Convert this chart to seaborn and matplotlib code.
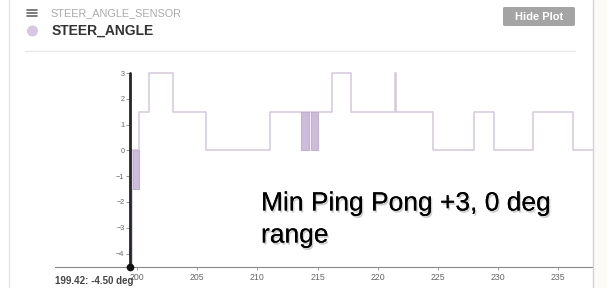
import matplotlib
matplotlib.use('Agg')
import pandas as pd
import seaborn as sns
import matplotlib.pyplot as plt
import matplotlib.patheffects as pe
from matplotlib.patches import Rectangle, Ellipse, FancyBboxPatch
from matplotlib.lines import Line2D

# steer angle samples (step signal, value held until next sample)
step_time = [199.42, 199.56, 200.19, 201.02, 202.97, 205.73, 211.05, 216.22, 217.77,
             221.47, 221.52, 224.61, 227.99, 229.65, 232.92, 236.19, 239.5]
step_angle = [-4.5, 0, 1.5, 3, 1.5, 0, 1.5, 3, 1.5, 3, 1.5, 0, 1.5, 0, 1.5, 0, 0]

# bursts of rapid toggling, drawn as solid blocks
burst_start = [199.64, 213.60, 214.43]
burst_end = [200.19, 214.29, 215.06]
burst_low = [-1.5, 0.0, 0.0]
burst_high = [0.0, 1.5, 1.5]

x_ticks = [200, 205, 210, 215, 220, 225, 230, 235]
y_ticks = [-4, -3, -2, -1, 0, 1, 2, 3]

cursor_time = 199.42
cursor_angle = -4.5

W, H = 607, 288
LINE = '#d6c8df'


def fx(px):
    return px / W


def fy(py):
    return 1 - py / H


sns.set_style('white')
plt.rcParams['font.family'] = ['Liberation Sans', 'DejaVu Sans']

fig = plt.figure(figsize=(W / 100, H / 100), dpi=100)
fig.patch.set_facecolor('white')

# panel frame
fig.add_artist(Rectangle((fx(593.5), 0), 1 - fx(593.5), 1, transform=fig.transFigure,
                         facecolor='#fbfaf6', edgecolor='none'))
fig.add_artist(Line2D([fx(593), fx(593)], [0, 1], transform=fig.transFigure, color='#d2d2d2', lw=1))
fig.add_artist(Line2D([fx(8.5), fx(8.5)], [0, 1], transform=fig.transFigure, color='#e4e4e4', lw=1))
fig.add_artist(Line2D([fx(25), fx(575)], [fy(50.5), fy(50.5)], transform=fig.transFigure,
                      color='#e8e8e8', lw=1))

# header
for yy in [10.3, 12.9, 15.5]:
    fig.add_artist(Line2D([fx(27), fx(37)], [fy(yy), fy(yy)], transform=fig.transFigure,
                          color='#666666', lw=1.2))
fig.add_artist(Ellipse((fx(32.5), fy(31)), 11 / W, 11 / H, transform=fig.transFigure,
                       facecolor='#d4c8e2', edgecolor='none'))
fig.text(fx(50), fy(13), 'STEER_ANGLE_SENSOR', fontsize=7.8, color='#aaaaaa', va='center')
fig.text(fx(52), fy(31), 'STEER_ANGLE', fontsize=10, fontweight='bold', color='#333333', va='center')
fig.add_artist(FancyBboxPatch((fx(503), fy(26)), fx(72), 19 / H, transform=fig.transFigure,
                              boxstyle='round,pad=0,rounding_size=0.004',
                              facecolor='#a4a4a4', edgecolor='none'))
fig.text(fx(539), fy(16.5), 'Hide Plot', fontsize=8, fontweight='bold', color='white',
         ha='center', va='center')

# plot area
ax = fig.add_axes([fx(55), fy(266.5), 1 - fx(55), (266.5 - 73) / H])
ax.set_facecolor('none')

df = pd.DataFrame({'time': step_time, 'angle': step_angle})
sns.lineplot(data=df, x='time', y='angle', estimator=None, sort=False,
             drawstyle='steps-post', color=LINE, lw=1.1, ax=ax, clip_on=False, zorder=2)

for s, e, lo, hi in zip(burst_start, burst_end, burst_low, burst_high):
    ax.fill_between([s, e], lo, hi, facecolor='#cdbdda', edgecolor='#c3afd2', lw=0.8, zorder=2)

x_left = cursor_time - 75 / 12.04
x_right = cursor_time + 477 / 12.04
ax.set_xlim(x_left, x_right)
ax.set_ylim(-4.5, 3)

ax.spines['left'].set_position(('data', cursor_time))
ax.spines['right'].set_visible(False)
ax.spines['top'].set_visible(False)
ax.spines['bottom'].set_bounds(x_left, cursor_time + 463 / 12.04)
ax.spines['bottom'].set_color('#888888')
ax.spines['bottom'].set_linewidth(0.8)
ax.spines['left'].set_color('#333333')

ax.set_xticks(x_ticks)
ax.set_yticks(y_ticks)
ax.tick_params(axis='x', length=2.5, width=0.6, color='#888888', labelsize=6.3,
               labelcolor='#666666', pad=2, bottom=True)
ax.tick_params(axis='y', length=3, width=0.6, color='#888888', labelsize=5.2,
               labelcolor='#666666', pad=1, left=True)
ax.set_xlabel('')
ax.set_ylabel('')

# hover cursor
ax.plot([cursor_time, cursor_time], [cursor_angle, 3], color='#262626', lw=2, zorder=4, clip_on=False)
ax.plot([cursor_time], [cursor_angle], 'o', color='#111111', markersize=4.5, zorder=5, clip_on=False)
fig.text(fx(55), fy(281), f'{cursor_time:.2f}: {cursor_angle:.2f} deg', fontsize=7,
         fontweight='bold', color='#444444', va='center')

# annotation
fig.text(fx(261), fy(210.5), 'Min Ping Pong +3, 0 deg', fontsize=19, color='black', va='baseline',
         path_effects=[pe.withSimplePatchShadow(offset=(1, -1.5), shadow_rgbFace='#777777', alpha=0.35),
                       pe.Normal()])
fig.text(fx(261), fy(242.5), 'range', fontsize=19, color='black', va='baseline',
         path_effects=[pe.withSimplePatchShadow(offset=(1, -1.5), shadow_rgbFace='#777777', alpha=0.35),
                       pe.Normal()])

fig.savefig('out.png', dpi=100)
